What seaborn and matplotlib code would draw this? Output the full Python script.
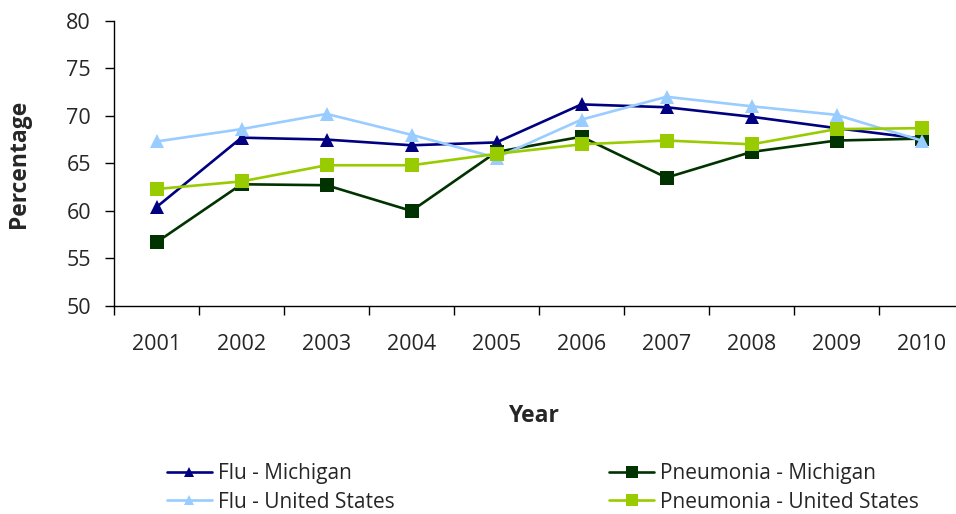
import matplotlib
matplotlib.use("Agg")
import matplotlib.pyplot as plt
from matplotlib.ticker import FixedLocator, MultipleLocator
import numpy as np
import pandas as pd
import seaborn as sns

years = [2001, 2002, 2003, 2004, 2005, 2006, 2007, 2008, 2009, 2010]
flu_michigan = [60.4, 67.7, 67.5, 66.9, 67.2, 71.2, 70.9, 69.9, 68.7, 67.6]
pneumonia_michigan = [56.7, 62.8, 62.7, 60.0, 66.2, 67.8, 63.5, 66.2, 67.4, 67.6]
flu_us = [67.3, 68.6, 70.2, 68.0, 65.6, 69.6, 72.0, 71.0, 70.1, 67.4]
pneumonia_us = [62.3, 63.1, 64.8, 64.8, 66.0, 67.0, 67.4, 67.0, 68.6, 68.7]

series_names = ["Flu - Michigan", "Pneumonia - Michigan",
                "Flu - United States", "Pneumonia - United States"]
series_values = [flu_michigan, pneumonia_michigan, flu_us, pneumonia_us]

colors = {
    "Flu - Michigan": "#000080",
    "Pneumonia - Michigan": "#003300",
    "Flu - United States": "#99CCFF",
    "Pneumonia - United States": "#99CC00",
}
markers = {
    "Flu - Michigan": "^",
    "Pneumonia - Michigan": "s",
    "Flu - United States": "^",
    "Pneumonia - United States": "s",
}
marker_sizes = {"^": 9.5, "s": 10}

df = pd.DataFrame(
    [(y, name, v) for name, vals in zip(series_names, series_values)
     for y, v in zip(years, vals)],
    columns=["Year", "Series", "Percentage"],
)

sns.set_style("white")
plt.rcParams["font.family"] = ["Open Sans", "DejaVu Sans"]

fig = plt.figure(figsize=(9.56, 5.14), dpi=100)
ax = fig.add_axes([114 / 956, 1 - 306 / 514, 850 / 956, 285.3 / 514])

for name in series_names:
    sns.lineplot(
        data=df[df["Series"] == name], x="Year", y="Percentage",
        color=colors[name], marker=markers[name],
        markersize=marker_sizes[markers[name]],
        markeredgewidth=0, linewidth=1.9, label=name, ax=ax,
    )

ax.set_xlim(2000.5, 2010.5)
ax.set_ylim(50, 80)
ax.yaxis.set_major_locator(MultipleLocator(5))
ax.xaxis.set_major_locator(FixedLocator(years))
ax.xaxis.set_minor_locator(FixedLocator(np.arange(2000.5, 2010.6, 1.0)))

for side in ["top", "right"]:
    ax.spines[side].set_visible(False)
for side in ["left", "bottom"]:
    ax.spines[side].set_color("#000000")
    ax.spines[side].set_linewidth(1.0)

ax.tick_params(axis="y", which="major", direction="out", length=6.5, width=1,
               color="#000000", left=True, labelsize=15.5, pad=10)
ax.tick_params(axis="x", which="major", length=0, labelsize=15.5, pad=20)
ax.tick_params(axis="x", which="minor", direction="out", length=6.5, width=1,
               color="#000000", bottom=True)
ax.grid(False)

ax.set_xlabel("Year", fontsize=16.5, fontweight="bold")
ax.set_ylabel("Percentage", fontsize=16.5, fontweight="bold")
ax.xaxis.label.set_va("baseline")
ax.yaxis.label.set_va("baseline")
ax.xaxis.set_label_coords((533 - 114) / 850, -(422 - 306) / 285.3)
ax.yaxis.set_label_coords((25 - 114) / 850, (306 - 163.5) / 285.3)

handles, labels = ax.get_legend_handles_labels()
lookup = dict(zip(labels, handles))
order = ["Flu - Michigan", "Flu - United States",
         "Pneumonia - Michigan", "Pneumonia - United States"]
ax.legend(
    [lookup[n] for n in order], order,
    ncol=2, frameon=False, fontsize=15, markerscale=0.8,
    handlelength=2.15, handletextpad=0.3, columnspacing=10.3,
    labelspacing=0.36, borderaxespad=0, borderpad=0,
    loc="upper left", bbox_to_anchor=(167 / 956, 1 - 463 / 514),
    bbox_transform=fig.transFigure,
)

fig.savefig("out.png", dpi=100)
